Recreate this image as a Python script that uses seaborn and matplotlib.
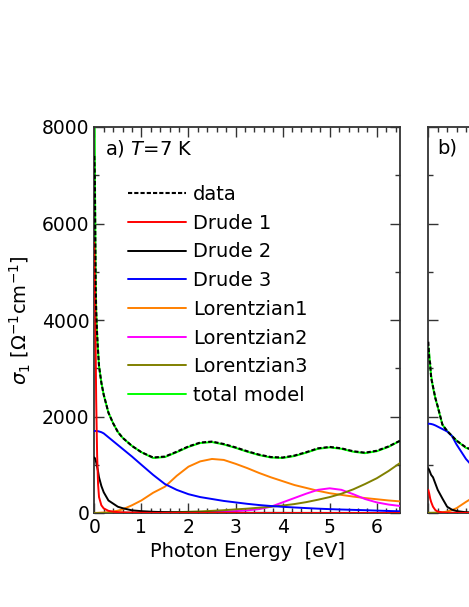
import matplotlib
matplotlib.use("Agg")
import matplotlib.pyplot as plt
from matplotlib.ticker import MultipleLocator, FixedFormatter
import seaborn as sns

# Photon energy grid (eV) for panel a
energia_a = [0, 0.01, 0.02, 0.03, 0.04, 0.06, 0.08, 0.10, 0.15, 0.20, 0.30, 0.40,
             0.50, 0.60, 0.80, 1.00, 1.25, 1.50, 1.75, 2.00, 2.25, 2.50, 2.75, 3.00,
             3.25, 3.50, 3.75, 4.00, 4.25, 4.50, 4.75, 5.00, 5.25, 5.50, 5.75, 6.00,
             6.25, 6.50]

dados_a = [7400, 7000, 5900, 4700, 4200, 3700, 3350, 3050, 2700, 2450, 2080, 1860,
           1680, 1560, 1390, 1260, 1150, 1170, 1270, 1380, 1460, 1480, 1430, 1360,
           1280, 1210, 1160, 1150, 1190, 1260, 1340, 1370, 1340, 1280, 1250, 1290,
           1380, 1500]
drude1_a = [5600, 5000, 4400, 3300, 2350, 1200, 600, 330, 160, 95, 45, 28,
            18, 13, 8, 5, 3, 2, 2, 1, 1, 1, 0, 0,
            0, 0, 0, 0, 0, 0, 0, 0, 0, 0, 0, 0,
            0, 0]
drude2_a = [1150, 1140, 1120, 1090, 1050, 960, 860, 740, 560, 430, 260, 195,
            130, 100, 55, 38, 25, 17, 12, 10, 8, 6, 5, 4,
            4, 3, 3, 3, 2, 2, 2, 2, 2, 2, 1, 1,
            1, 1]
drude3_a = [1700, 1700, 1700, 1700, 1700, 1698, 1695, 1690, 1675, 1650, 1570, 1490,
            1410, 1330, 1170, 1000, 790, 600, 480, 390, 330, 290, 250, 220,
            190, 165, 145, 128, 115, 102, 90, 80, 72, 65, 58, 50,
            42, 35]
lorentz1_a = [0, 0, 1, 1, 2, 3, 4, 5, 8, 10, 18, 30,
              48, 75, 160, 260, 420, 545, 770, 960, 1070, 1120, 1100, 1020,
              930, 830, 740, 660, 580, 520, 460, 410, 375, 340, 310, 285,
              260, 240]
lorentz2_a = [0, 0, 0, 0, 0, 0, 0, 0, 1, 1, 1, 2,
              2, 3, 4, 5, 7, 9, 12, 15, 19, 25, 32, 40,
              55, 80, 130, 220, 310, 400, 480, 512, 480, 390, 290, 220,
              175, 145]
lorentz3_a = [0, 0, 0, 0, 0, 0, 0, 0, 1, 1, 2, 3,
              4, 5, 6, 8, 11, 14, 18, 25, 33, 45, 58, 75,
              90, 110, 130, 155, 185, 225, 275, 330, 400, 490, 600, 720,
              870, 1040]
total_a = [9000, 7800, 6000, 4700, 4200, 3700, 3350, 3050, 2700, 2450, 2080, 1860,
           1680, 1560, 1390, 1260, 1140, 1160, 1260, 1370, 1450, 1470, 1420, 1350,
           1270, 1200, 1150, 1140, 1180, 1250, 1330, 1360, 1330, 1270, 1240, 1280,
           1370, 1500]

# Photon energy grid (eV) for panel b (only the low-energy end is visible)
energia_b = [0, 0.02, 0.04, 0.06, 0.10, 0.15, 0.20, 0.30, 0.40, 0.50, 0.60, 0.80, 1.00]
dados_b = [3550, 3200, 3100, 2800, 2620, 2380, 2210, 1830, 1700, 1600, 1500, 1360, 1280]
drude1_b = [480, 400, 300, 230, 130, 60, 30, 12, 6, 4, 3, 2, 1]
drude2_b = [926, 890, 840, 790, 740, 610, 480, 300, 130, 70, 40, 15, 8]
drude3_b = [1850, 1850, 1848, 1845, 1835, 1815, 1790, 1740, 1690, 1600, 1420, 1120, 900]
lorentz1_b = [0, 0, 0, 0, 2, 5, 8, 15, 30, 60, 100, 230, 350]
lorentz2_b = [2, 2, 2, 2, 2, 2, 2, 2, 2, 2, 2, 2, 2]
lorentz3_b = [5, 5, 5, 5, 5, 5, 5, 5, 5, 5, 6, 6, 7]
total_b = [3450, 3300, 3050, 2850, 2600, 2380, 2200, 1830, 1700, 1600, 1500, 1350, 1280]

ROTULOS = ["data", "Drude 1", "Drude 2", "Drude 3",
           "Lorentzian1", "Lorentzian2", "Lorentzian3", "total model"]
CORES = ["black", "#ff0000", "black", "#0000ff",
         "#ff8000", "#ff00ff", "#808000", "#00ff00"]

sns.set_style("ticks")
plt.rcParams["font.family"] = ["DejaVu Sans"]
plt.rcParams["mathtext.fontset"] = "dejavusans"
plt.rcParams["text.color"] = "black"
plt.rcParams["axes.labelcolor"] = "black"


def desenhar(ax, energia, series):
    """Draws the components; series follows ROTULOS order."""
    handles = {}
    # total model first, data dashed on top
    ordem = [7, 4, 5, 6, 3, 2, 1, 0]
    for i in ordem:
        kws = dict(lw=1.4, color=CORES[i], zorder=2 + ordem.index(i))
        if i == 0:
            kws["linestyle"] = (0, (2, 1))
            kws["lw"] = 1.5
        sns.lineplot(x=energia, y=series[i], ax=ax, estimator=None, sort=False,
                     label=ROTULOS[i], **kws)
        handles[ROTULOS[i]] = ax.get_lines()[-1]
    return [handles[r] for r in ROTULOS]


def estilizar(ax):
    ax.set_xlim(0, 6.5)
    ax.set_ylim(0, 8000)
    ax.xaxis.set_major_locator(MultipleLocator(1))
    ax.xaxis.set_minor_locator(MultipleLocator(0.2))
    ax.yaxis.set_major_locator(MultipleLocator(2000))
    ax.yaxis.set_minor_locator(MultipleLocator(1000))
    ax.tick_params(which="both", direction="in", top=True, right=True,
                   width=1, colors="#333333", labelcolor="black", labelsize=13.5)
    ax.tick_params(which="major", length=7)
    ax.tick_params(which="minor", length=3.5)
    for sp in ax.spines.values():
        sp.set_linewidth(1.3)
        sp.set_color("#333333")


fig = plt.figure(figsize=(4.69, 6.07), dpi=100)
ax_a = fig.add_axes([94.3 / 469, 1 - 513 / 607, 306 / 469, 386 / 607])
ax_b = fig.add_axes([428.3 / 469, 1 - 513 / 607, 306 / 469, 386 / 607])

h = desenhar(ax_a, energia_a, [dados_a, drude1_a, drude2_a, drude3_a,
                               lorentz1_a, lorentz2_a, lorentz3_a, total_a])
desenhar(ax_b, energia_b, [dados_b, drude1_b, drude2_b, drude3_b,
                           lorentz1_b, lorentz2_b, lorentz3_b, total_b])

estilizar(ax_a)
estilizar(ax_b)
ax_b.yaxis.set_major_formatter(FixedFormatter([]))
# panel b is cut by the figure edge: only its first label shows
ax_b.xaxis.set_major_formatter(FixedFormatter(["0", "", "", "", "", "", ""]))
ax_b.get_legend().remove()

ax_a.legend(h, ROTULOS, loc="upper left", bbox_to_anchor=(0.11, 0.85),
            frameon=False, fontsize=14, handlelength=3.0, handletextpad=0.35,
            labelspacing=0.5, borderpad=0, borderaxespad=0)

ax_a.text(0.035, 0.945, "a) $T$=7 K", transform=ax_a.transAxes,
          fontsize=14, va="center", ha="left")
ax_b.text(0.028, 0.945, "b)", transform=ax_b.transAxes,
          fontsize=14, va="center", ha="left")

ax_a.set_xlabel("Photon Energy  [eV]", fontsize=14, labelpad=4)
ax_a.set_ylabel(r"$\sigma_1$ [$\Omega^{-1}$cm$^{-1}$]", fontsize=14, labelpad=6)

fig.savefig("out.png", dpi=100)
